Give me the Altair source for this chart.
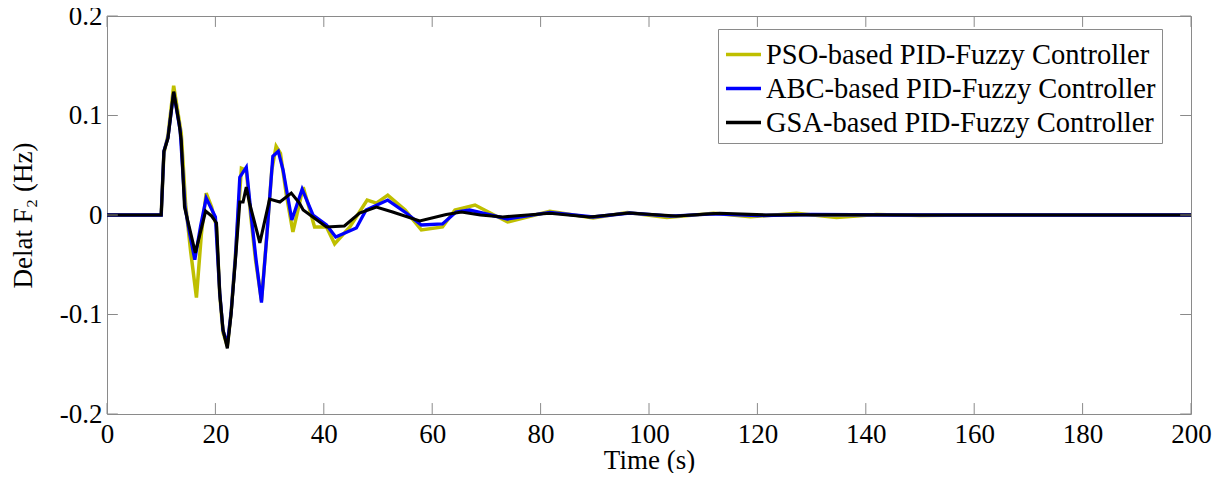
import altair as alt
import pandas as pd

# ---- data ----
series_names = ["PSO-based PID-Fuzzy Controller",
                "ABC-based PID-Fuzzy Controller",
                "GSA-based PID-Fuzzy Controller"]
series_colors = ["#BFBF00", "#0000FF", "#000000"]

pso_t = [0, 10, 10.5, 11.25, 12.3, 13.7, 14.5, 15.4, 16.5, 17.4, 18.3, 19.3, 20.2,
         20.8, 21.4, 22.2, 22.9, 23.7, 24.8, 25.7, 26.5, 27.4, 28.5, 29.5, 30.4,
         31.2, 32.0, 33.1, 34.3, 36.2, 38.3, 40.5, 42.0, 44.8, 48.0, 49.7, 51.8,
         55.0, 58.0, 61.9, 64.2, 67.9, 73.9, 81.7, 89.7, 96.0, 103.3, 111.9, 118.7,
         127.2, 134.6, 142, 150, 165, 180, 200]
pso_v = [0, 0, 0.062, 0.08, 0.130, 0.082, 0.011, -0.035, -0.083, -0.02, 0.022, 0.008, -0.012,
         -0.08, -0.118, -0.132, -0.098, -0.04, 0.047, 0.045, 0.0, -0.045, -0.086, -0.02, 0.045,
         0.069, 0.062, 0.02, -0.017, 0.028, -0.012, -0.012, -0.029, -0.012, 0.015, 0.012, 0.020,
         0.005, -0.015, -0.012, 0.005, 0.010, -0.007, 0.0037, -0.003, 0.0024, -0.0024, 0.0018, -0.0018,
         0.0018, -0.0024, 0.0005, -0.0005, 0.0003, 0.0, 0.0]

abc_t = [0, 10, 10.5, 11.25, 12.3, 13.5, 14.4, 15.3, 16.2, 17.3, 18.3, 20.0, 20.8,
         21.4, 22.2, 22.9, 23.7, 24.5, 25.7, 26.6, 27.5, 28.5, 29.5, 30.6, 31.6,
         32.5, 34.1, 36.0, 38.0, 40.5, 42.2, 46.0, 47.8, 51.8, 55.2, 58.0, 61.9,
         64.4, 66.9, 73.9, 81.7, 89.7, 96.4, 104, 112, 120, 130, 145, 165, 200]
abc_v = [0, 0, 0.064, 0.078, 0.123, 0.085, 0.008, -0.02, -0.045, -0.01, 0.017, -0.002, -0.078,
         -0.116, -0.13, -0.098, -0.042, 0.038, 0.048, 0.0, -0.045, -0.088, -0.02, 0.059, 0.064,
         0.045, -0.005, 0.026, 0.0, -0.010, -0.022, -0.013, 0.005, 0.015, 0.002, -0.010, -0.009,
         0.003, 0.005, -0.004, 0.0027, -0.002, 0.002, -0.0012, 0.0012, -0.0006, 0.0005, 0.0, 0.0, 0.0]

gsa_t = [0, 10, 10.5, 11.25, 12.3, 13.3, 13.7, 14.3, 15.3, 16.3, 18.2, 19.3, 20.2,
         20.8, 21.4, 22.2, 22.9, 23.7, 24.5, 25.1, 25.7, 26.3, 28.2, 30.0, 31.9,
         34.0, 35.5, 36.2, 40.5, 43.8, 46.6, 49.7, 52.7, 57.7, 62.6, 65.4, 68.9,
         73.0, 81.7, 89.0, 96.4, 105, 113, 121.6, 135, 150, 170, 200]
gsa_v = [0, 0, 0.064, 0.077, 0.124, 0.092, 0.075, 0.008, -0.015, -0.038, 0.004, -0.001, -0.008,
         -0.079, -0.115, -0.134, -0.099, -0.045, 0.013, 0.013, 0.028, 0.012, -0.028, 0.016, 0.013,
         0.022, 0.012, 0.005, -0.012, -0.011, 0.002, 0.008, 0.003, -0.006, 0.0006, 0.003, 0.0,
         -0.002, 0.0018, -0.002, 0.002, -0.001, 0.0018, 0.0, 0.0003, 0.0, 0.0, 0.0]

x_ticks = [0, 20, 40, 60, 80, 100, 120, 140, 160, 180, 200]
y_ticks = [-0.2, -0.1, 0, 0.1, 0.2]

# ---- build tables ----
frames = []
for i, (name, ts, vs) in enumerate(zip(series_names, [pso_t, abc_t, gsa_t], [pso_v, abc_v, gsa_v])):
    frames.append(pd.DataFrame({"t": ts, "v": vs, "series": name, "order": i}))
df = pd.concat(frames, ignore_index=True)

FONT = "Liberation Serif"
FRAME = "#8a8a8a"
X_DOM = [0, 200]
Y_DOM = [-0.2, 0.2]
XTL = 2.0     # y-tick length in x units
YTL = 0.011   # x-tick length in y units

xs = alt.Scale(domain=X_DOM, nice=False, zero=False)
ys = alt.Scale(domain=Y_DOM, nice=False, zero=False)

color = alt.Color(
    "series:N",
    scale=alt.Scale(domain=series_names, range=series_colors),
    legend=alt.Legend(
        title=None, orient="none", legendX=611, legendY=13,
        direction="vertical",
        labelFont=FONT, labelFontSize=28.5, labelColor="#000000",
        labelOffset=3, labelLimit=600,
        symbolType="stroke", symbolStrokeWidth=3.5, symbolSize=1225,
        rowPadding=0, padding=6,
        strokeColor=FRAME, fillColor="#ffffff",
    ),
)

label_expr = ("datum.value == 0 ? '0' : (datum.value < 0 ? '-' + format(-datum.value, '.1f') "
              ": format(datum.value, '.1f'))")

x_axis = alt.Axis(values=x_ticks, title="Time (s)", grid=False, ticks=False, tickSize=0,
                  domain=False, labelFont=FONT, labelFontSize=27, labelColor="#000000",
                  labelPadding=7, titleFont=FONT, titleFontSize=27, titleFontWeight="normal",
                  titleColor="#000000", titlePadding=0, labelFlush=False)
y_axis = alt.Axis(values=y_ticks, title="Delat F₂ (Hz)", grid=False, ticks=False, tickSize=0,
                  domain=False, labelFont=FONT, labelFontSize=27, labelColor="#000000",
                  labelPadding=5, titleFont=FONT, titleFontSize=27, titleFontWeight="normal",
                  titleColor="#000000", titlePadding=22, labelFlush=False,
                  labelExpr=label_expr)

layers = []
for i, name in enumerate(series_names):
    layers.append(
        alt.Chart(df).transform_filter(alt.datum.series == name).mark_line(
            strokeWidth=3.5 if i == 0 else (3.3 if i == 1 else 3.1)
        ).encode(
            x=alt.X("t:Q", scale=xs, axis=x_axis),
            y=alt.Y("v:Q", scale=ys, axis=y_axis),
            color=color,
        )
    )

# inward ticks on all four sides
xt = pd.DataFrame({"x": x_ticks})
yt = pd.DataFrame({"y": y_ticks})
tick_style = dict(color=FRAME, strokeWidth=1)
ticks = [
    alt.Chart(xt).mark_rule(**tick_style).encode(
        x=alt.X("x:Q", scale=xs, axis=x_axis),
        y=alt.YDatum(Y_DOM[0], scale=ys, axis=y_axis), y2=alt.datum(Y_DOM[0] + YTL)),
    alt.Chart(xt).mark_rule(**tick_style).encode(
        x=alt.X("x:Q", scale=xs, axis=x_axis),
        y=alt.YDatum(Y_DOM[1], scale=ys, axis=y_axis), y2=alt.datum(Y_DOM[1] - YTL)),
    alt.Chart(yt).mark_rule(**tick_style).encode(
        y=alt.Y("y:Q", scale=ys, axis=y_axis),
        x=alt.XDatum(X_DOM[0], scale=xs, axis=x_axis), x2=alt.datum(X_DOM[0] + XTL)),
    alt.Chart(yt).mark_rule(**tick_style).encode(
        y=alt.Y("y:Q", scale=ys, axis=y_axis),
        x=alt.XDatum(X_DOM[1], scale=xs, axis=x_axis), x2=alt.datum(X_DOM[1] - XTL)),
]

chart = alt.layer(*layers, *ticks).properties(
    width=1084, height=398,
    autosize=alt.AutoSizeParams(type="none"),
    padding={"left": 99, "top": 8, "right": 22, "bottom": 59},
    background="#ffffff",
).configure_view(stroke=FRAME, strokeWidth=1)

chart.save("out.html", embed_options={"renderer": "svg", "actions": False})
